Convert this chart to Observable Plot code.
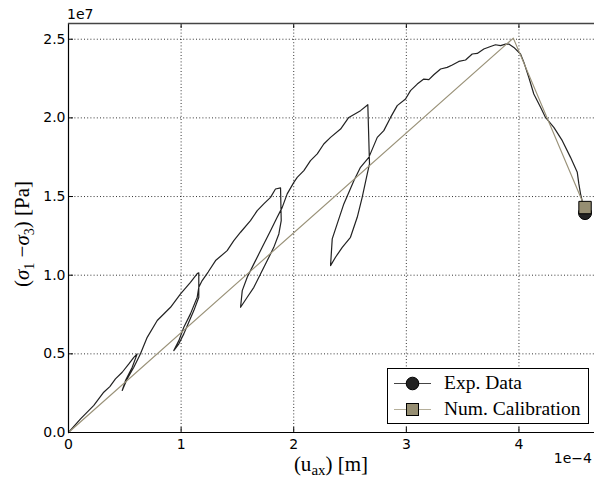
<!DOCTYPE html>
<html>
<head>
<meta charset="utf-8">
<script src="https://cdn.jsdelivr.net/npm/d3@7"></script>
<script src="https://cdn.jsdelivr.net/npm/@observablehq/plot@0.6"></script>
<style>
html, body { margin: 0; padding: 0; background: #fff; }
#chart { width: 594px; height: 480px; overflow: hidden; }
</style>
</head>
<body>
<div id="chart"></div>
<script>
// axial displacement in units of 1e-4 m, deviatoric stress in units of 1e7 Pa
const expX = [0,0.107,0.225,0.313,0.367,0.417,0.477,0.536,0.580,0.610,0.566,0.506,0.477,0.521,0.580,0.624,0.639,0.699,0.788,0.906,0.995,1.083,1.143,1.157,1.157,1.113,1.068,1.024,0.980,0.935,0.980,1.024,1.083,1.143,1.157,1.187,1.240,1.306,1.409,1.468,1.528,1.616,1.676,1.734,1.794,1.838,1.883,1.889,1.868,1.823,1.765,1.705,1.646,1.587,1.528,1.543,1.587,1.646,1.720,1.794,1.853,1.898,1.942,2.001,2.031,2.090,2.149,2.209,2.267,2.327,2.416,2.489,2.593,2.658,2.673,2.653,2.608,2.564,2.504,2.431,2.371,2.327,2.342,2.386,2.445,2.534,2.593,2.667,2.742,2.800,2.860,2.919,2.993,3.037,3.097,3.155,3.200,3.244,3.304,3.363,3.408,3.466,3.526,3.585,3.630,3.688,3.748,3.792,3.837,3.881,3.910,3.955,4.014,4.044,4.088,4.132,4.192,4.236,4.310,4.385,4.458,4.518,4.532,4.547,4.587];
const expY = [0,0.087,0.172,0.256,0.292,0.341,0.383,0.436,0.478,0.500,0.415,0.330,0.267,0.341,0.415,0.478,0.500,0.605,0.712,0.796,0.881,0.955,1.010,1.015,0.860,0.775,0.701,0.627,0.564,0.521,0.584,0.669,0.754,0.860,0.923,0.966,1.020,1.093,1.156,1.220,1.273,1.347,1.410,1.453,1.495,1.548,1.555,1.347,1.262,1.177,1.093,1.008,0.923,0.860,0.796,0.902,0.987,1.072,1.177,1.283,1.368,1.431,1.517,1.590,1.622,1.665,1.728,1.771,1.834,1.876,1.929,2.003,2.046,2.084,1.707,1.644,1.495,1.368,1.241,1.177,1.114,1.061,1.231,1.326,1.453,1.601,1.686,1.749,1.876,1.919,2.003,2.078,2.120,2.173,2.215,2.247,2.243,2.274,2.311,2.321,2.336,2.359,2.368,2.406,2.410,2.438,2.454,2.465,2.459,2.469,2.469,2.448,2.406,2.353,2.257,2.152,2.067,2.003,1.940,1.855,1.749,1.654,1.580,1.517,1.395];
const numX = [0, 3.95, 4.587];
const numY = [0, 2.507, 1.43];
const xTicks = [0, 1, 2, 3, 4];
const yTicks = [0, 0.5, 1.0, 1.5, 2.0, 2.5];
const xGrid = [1, 2, 3, 4];
const yGrid = [0.5, 1.0, 1.5, 2.0, 2.5];
const seriesNames = ["Exp. Data", "Num. Calibration"];
const xLabelMain = "(u", xLabelSub = "ax", xLabelEnd = ") [m]";
const xOffsetText = "1e\u22124", yOffsetText = "1e7";

const expData = expX.map((x, i) => ({x, y: expY[i]}));
const numData = numX.map((x, i) => ({x, y: numY[i]}));

const W = 594, H = 480, mL = 68, mR = 0, mT = 23, mB = 48;
const frameH = H - mT - mB, frameW = W - mL - mR;
const expColor = "#222222", numColor = "#9a9279", numFill = "#968e72";

const plot = Plot.plot({
  width: W, height: H,
  marginLeft: mL, marginRight: mR, marginTop: mT, marginBottom: mB,
  style: {background: "#fff", fontFamily: "DejaVu Sans", fontSize: "14px", color: "#000"},
  x: {domain: [0, 4.671], ticks: xTicks, tickFormat: d => String(d), label: null},
  y: {domain: [0, 2.6], ticks: yTicks, tickFormat: d3.format(".1f"), label: null},
  marks: [
    Plot.ruleX(xGrid, {stroke: "#000", strokeWidth: 0.8, strokeDasharray: "1,2.2"}),
    Plot.ruleY(yGrid, {stroke: "#000", strokeWidth: 0.8, strokeDasharray: "1,2.2"}),
    Plot.tickX(xTicks, {x: d => d, insetTop: frameH - 5, stroke: "#000"}),
    Plot.tickX(xTicks, {x: d => d, insetBottom: frameH - 5, stroke: "#000"}),
    Plot.tickY(yTicks, {y: d => d, insetRight: frameW - 5, stroke: "#000"}),
    Plot.line(expData, {x: "x", y: "y", stroke: expColor, strokeWidth: 1.2}),
    Plot.dot(expData.slice(-1), {x: "x", y: "y", r: 6.5, fill: expColor, stroke: "#000", strokeWidth: 1}),
    Plot.line(numData, {x: "x", y: "y", stroke: numColor, strokeWidth: 1.2}),
    Plot.dot(numData.slice(-1), {x: "x", y: "y", r: 7, symbol: "square", fill: numFill, stroke: "#000", strokeWidth: 1}),
    Plot.ruleX([0], {stroke: "#000", strokeWidth: 1.2}),
    Plot.ruleY([0], {stroke: "#000", strokeWidth: 1.2}),
    Plot.ruleY([2.6], {stroke: "#444", strokeWidth: 1.5}),
    Plot.axisX({ticks: xTicks, tickFormat: d => String(d), tickSize: 0, tickPadding: 7, fontSize: 14, label: null}),
    Plot.axisY({ticks: yTicks, tickFormat: d3.format(".1f"), tickSize: 0, tickPadding: 3, fontSize: 14, label: null})
  ]
});

document.getElementById("chart").appendChild(plot);
const svg = d3.select(plot);
svg.selectAll("text").attr("fill", "#000");

// offset labels
svg.append("text").attr("x", 67).attr("y", 19).attr("text-anchor", "start").attr("font-family", "DejaVu Sans").attr("font-size", 14).attr("fill", "#000").text(yOffsetText);
svg.append("text").attr("x", 592).attr("y", 463).attr("text-anchor", "end").attr("font-family", "DejaVu Sans").attr("font-size", 14).attr("fill", "#000").text(xOffsetText);

// x label
const xl = svg.append("text").attr("x", 331).attr("y", 471).attr("text-anchor", "middle")
  .attr("font-family", "Liberation Serif").attr("font-size", 21).attr("fill", "#000");
xl.append("tspan").text(xLabelMain);
xl.append("tspan").attr("font-size", 15).attr("dy", 4).text(xLabelSub);
xl.append("tspan").attr("dy", -4).text(xLabelEnd);

// y label
const yl = svg.append("text").attr("transform", "translate(29,234) rotate(-90)").attr("text-anchor", "middle")
  .attr("font-family", "Liberation Serif").attr("font-size", 21).attr("fill", "#000");
yl.append("tspan").text("(");
yl.append("tspan").attr("font-style", "italic").text("\u03c3");
yl.append("tspan").attr("font-size", 14).attr("dy", 5).text("1");
yl.append("tspan").attr("dy", -5).text(" \u2212");
yl.append("tspan").attr("font-style", "italic").text("\u03c3");
yl.append("tspan").attr("font-size", 14).attr("dy", 5).text("3");
yl.append("tspan").attr("dy", -5).text(") [Pa]");

// legend
const lg = svg.append("g");
lg.append("rect").attr("x", 387.5).attr("y", 368.5).attr("width", 201).attr("height", 55)
  .attr("fill", "#fff").attr("stroke", "#000").attr("stroke-width", 1);
const rows = [
  {name: seriesNames[0], y: 383.5, line: "#444", sym: "circle", fill: expColor},
  {name: seriesNames[1], y: 409.5, line: "#b5af9a", sym: "square", fill: numFill}
];
rows.forEach(r => {
  lg.append("line").attr("x1", 394).attr("x2", 431).attr("y1", r.y).attr("y2", r.y).attr("stroke", r.line).attr("stroke-width", 1.2);
  if (r.sym === "circle") {
    lg.append("circle").attr("cx", 412.5).attr("cy", r.y).attr("r", 6.3).attr("fill", r.fill).attr("stroke", "#000");
  } else {
    lg.append("rect").attr("x", 406.5).attr("y", r.y - 6).attr("width", 12).attr("height", 12).attr("fill", r.fill).attr("stroke", "#000");
  }
  lg.append("text").attr("x", 444).attr("y", r.y + 5.5).attr("text-anchor", "start").attr("font-family", "Liberation Serif").attr("font-size", 19.5).attr("fill", "#000").text(r.name);
});
</script>
</body>
</html>
